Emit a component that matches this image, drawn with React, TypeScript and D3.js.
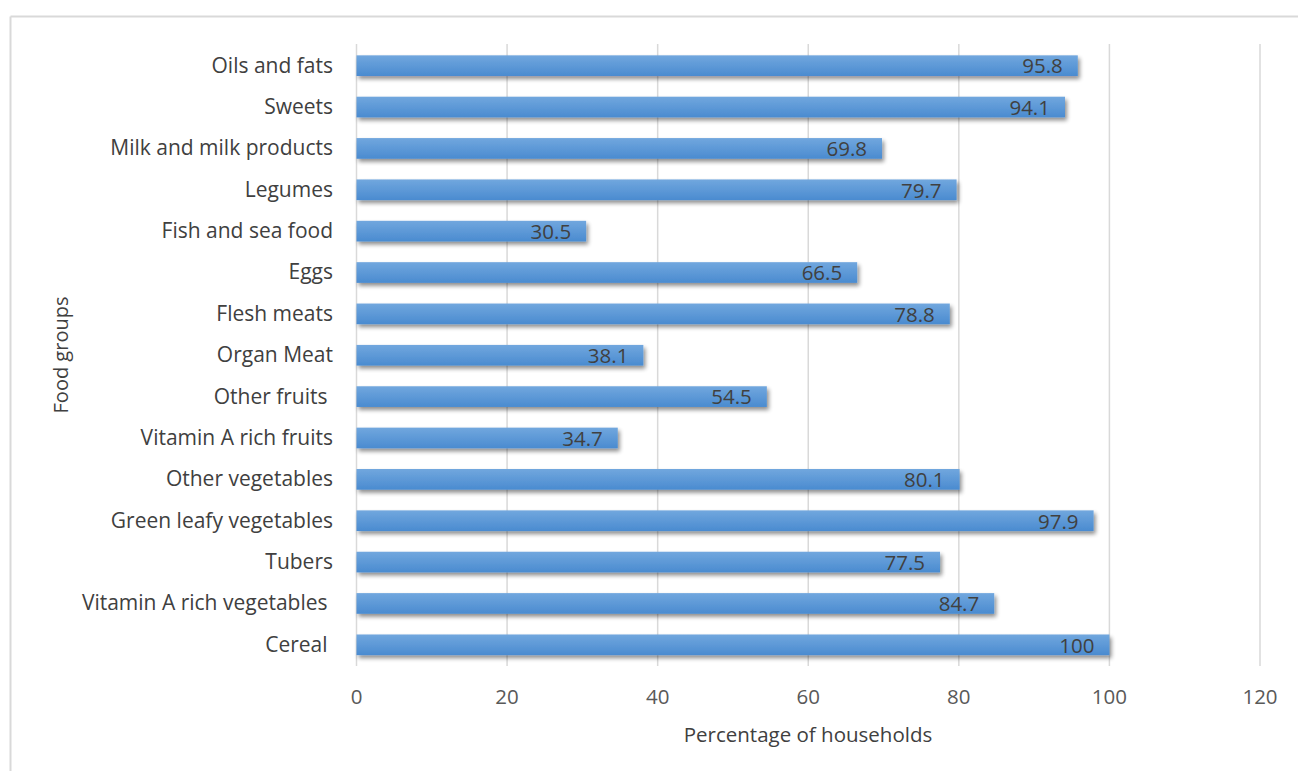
import React from "react";
import * as d3 from "d3";

const categories = [
  "Oils and fats",
  "Sweets",
  "Milk and milk products",
  "Legumes",
  "Fish and sea food",
  "Eggs",
  "Flesh meats",
  "Organ Meat",
  "Other fruits ",
  "Vitamin A rich fruits",
  "Other vegetables",
  "Green leafy vegetables",
  "Tubers",
  "Vitamin A rich vegetables ",
  "Cereal ",
];
const values = [95.8, 94.1, 69.8, 79.7, 30.5, 66.5, 78.8, 38.1, 54.5, 34.7, 80.1, 97.9, 77.5, 84.7, 100];
const labels = ["95.8", "94.1", "69.8", "79.7", "30.5", "66.5", "78.8", "38.1", "54.5", "34.7", "80.1", "97.9", "77.5", "84.7", "100"];
const xTicks = [0, 20, 40, 60, 80, 100, 120];

const W = 1298;
const H = 771;
const FONT = "'Open Sans', sans-serif";

export default function App() {
  const x = d3.scaleLinear().domain([0, 120]).range([356.5, 1260]);
  const y = d3.scaleBand().domain(categories).range([45, 665.5]).paddingInner(0.5).paddingOuter(0.25);
  const bh = y.bandwidth();
  return (
    <svg width={W} height={H} style={{ position: "absolute", left: 0, top: 0, background: "#fff" }}>
      <defs>
        <linearGradient id="barGrad" x1="0" y1="0" x2="0" y2="1">
          <stop offset="0" stopColor="#71a7de" />
          <stop offset="1" stopColor="#4a8bd0" />
        </linearGradient>
        <filter id="shadow" x="-5%" y="-50%" width="110%" height="220%">
          <feGaussianBlur in="SourceAlpha" stdDeviation="2" />
          <feOffset dx="2" dy="3" result="b" />
          <feComponentTransfer>
            <feFuncA type="linear" slope="0.45" />
          </feComponentTransfer>
          <feMerge>
            <feMergeNode />
            <feMergeNode in="SourceGraphic" />
          </feMerge>
        </filter>
      </defs>
      <rect x={0} y={0} width={W} height={H} fill="#fff" />
      <line x1={10.5} y1={16.5} x2={W} y2={16.5} stroke="#d9d9d9" strokeWidth={2} />
      <line x1={10.5} y1={16.5} x2={10.5} y2={H} stroke="#d9d9d9" strokeWidth={2} />
      {xTicks.map((t) => (
        <line key={"g" + t} x1={x(t)} x2={x(t)} y1={44} y2={666} stroke="#d9d9d9" strokeWidth={1.5} />
      ))}
      {categories.map((c, i) => (
        <g key={c}>
          <rect
            x={x(0)}
            y={y(c)}
            width={x(values[i]) - x(0)}
            height={bh}
            fill="url(#barGrad)"
            filter="url(#shadow)"
          />
          <text
            x={x(values[i]) - 15}
            y={y(c)! + bh / 2}
            dy="0.38em"
            textAnchor="end"
            fontFamily={FONT}
            fontSize={20.5}
            fill="#404040"
          >
            {labels[i]}
          </text>
          <text
            x={333}
            y={y(c)! + bh / 2}
            dy="0.33em"
            textAnchor="end"
            fontFamily={FONT}
            fontSize={21}
            fill="#404040"
            style={{ whiteSpace: "pre" }}
          >
            {c}
          </text>
        </g>
      ))}
      {xTicks.map((t) => (
        <text
          key={"t" + t}
          x={x(t)}
          y={697}
          dy="0.36em"
          textAnchor="middle"
          fontFamily={FONT}
          fontSize={20.5}
          fill="#595959"
        >
          {t}
        </text>
      ))}
      <text x={808} y={735} dy="0.36em" textAnchor="middle" fontFamily={FONT} fontSize={20.5} fill="#404040">
        Percentage of households
      </text>
      <text
        transform="translate(61,355) rotate(-90)"
        dy="0.36em"
        textAnchor="middle"
        fontFamily={FONT}
        fontSize={20}
        fill="#404040"
      >
        Food groups
      </text>
    </svg>
  );
}
